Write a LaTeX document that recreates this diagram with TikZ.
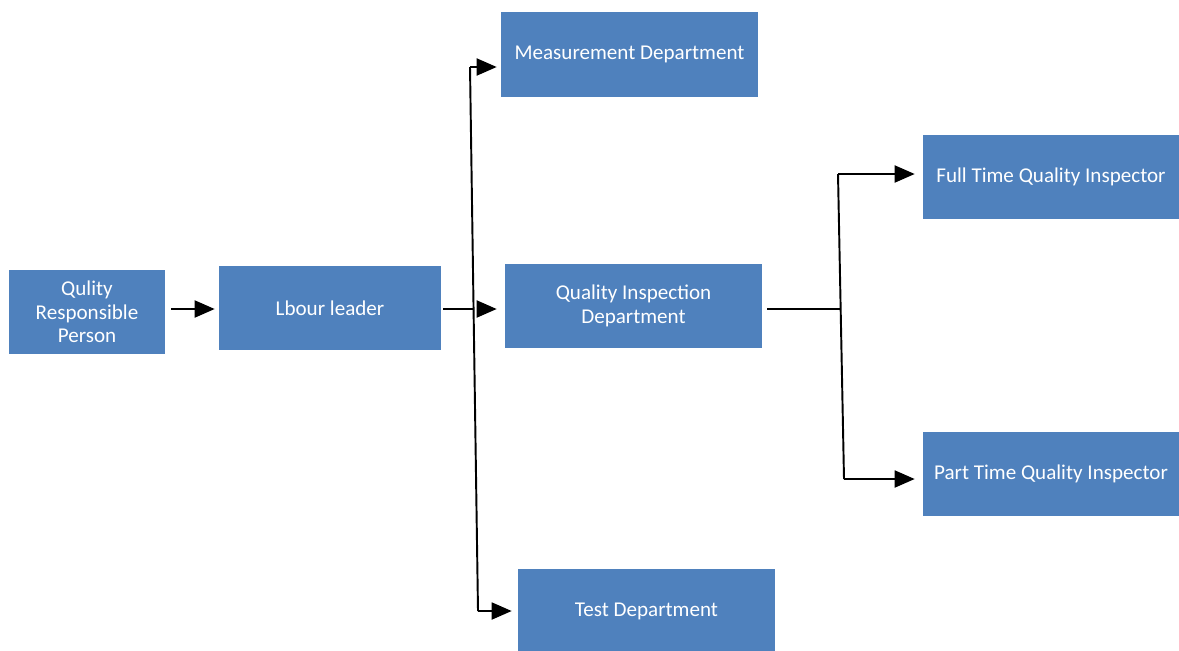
\documentclass[tikz,border=0pt]{standalone}
\usepackage{fontspec}
\setmainfont{Carlito}
\usepackage{xcolor}
\usetikzlibrary{arrows.meta, positioning}
\definecolor{boxblue}{HTML}{4F81BD}

\begin{document}
\begin{tikzpicture}[x=0.02cm, y=-0.02cm]
    \tikzstyle{unit} = [rectangle, minimum height=1.68cm, text centered, align=center, fill=boxblue, text=white, font=\fontsize{12}{13.3}\selectfont, inner sep=0pt]
    \tikzstyle{line} = [line width=1.1pt]
    \tikzstyle{arrow} = [line width=1.1pt, -{Triangle[length=0.4cm, width=0.34cm]}]

    \useasboundingbox (0,0) rectangle (1179,650);

    \node (person) [unit, minimum width=3.12cm] at (87,312) {Qulity\\Responsible\\Person};
    \node (leader) [unit, minimum width=4.44cm] at (330,308) {Lbour leader};
    \node (measure) [unit, minimum width=5.14cm, minimum height=1.7cm] at (629.5,54.5) {Measurement Department};
    \node (inspect) [unit, minimum width=5.14cm] at (633.5,306) {Quality Inspection\\Department};
    \node (test) [unit, minimum width=5.14cm] at (646.5,611) {Test Department};
    \node (fulltime) [unit, minimum width=5.12cm] at (1051,177) {Full Time Quality Inspector};
    \node (parttime) [unit, minimum width=5.12cm] at (1051,474) {Part Time Quality Inspector};

    % branch points
    \coordinate (deptTop) at (470,67);
    \coordinate (deptMid) at (474,309);
    \coordinate (deptBot) at (478,611);
    \coordinate (qiTop) at (838,174);
    \coordinate (qiMid) at (841,309);
    \coordinate (qiBot) at (844,479);

    \draw [arrow, shorten <=0.12cm, shorten >=0.08cm] (person.east |- deptMid) -- (leader.west |- deptMid);
    \draw [line, shorten <=0.04cm] (leader.east |- deptMid) -- (deptMid);
    \draw [line] (deptTop) -- (deptBot);
    \draw [arrow, shorten <=0.06cm, shorten >=0.16cm] (deptMid) -- (deptMid -| inspect.west);
    \draw [arrow, shorten >=0.08cm] (deptTop) -- (deptTop -| measure.west);
    \draw [arrow, shorten >=0.12cm] (deptBot) -- (deptBot -| test.west);

    \draw [line, shorten <=0.1cm] (inspect.east |- qiMid) -- (qiMid);
    \draw [line] (qiTop) -- (qiBot);
    \draw [arrow, shorten >=0.16cm] (qiTop) -- (qiTop -| fulltime.west);
    \draw [arrow, shorten >=0.16cm] (qiBot) -- (qiBot -| parttime.west);
\end{tikzpicture}
\end{document}
